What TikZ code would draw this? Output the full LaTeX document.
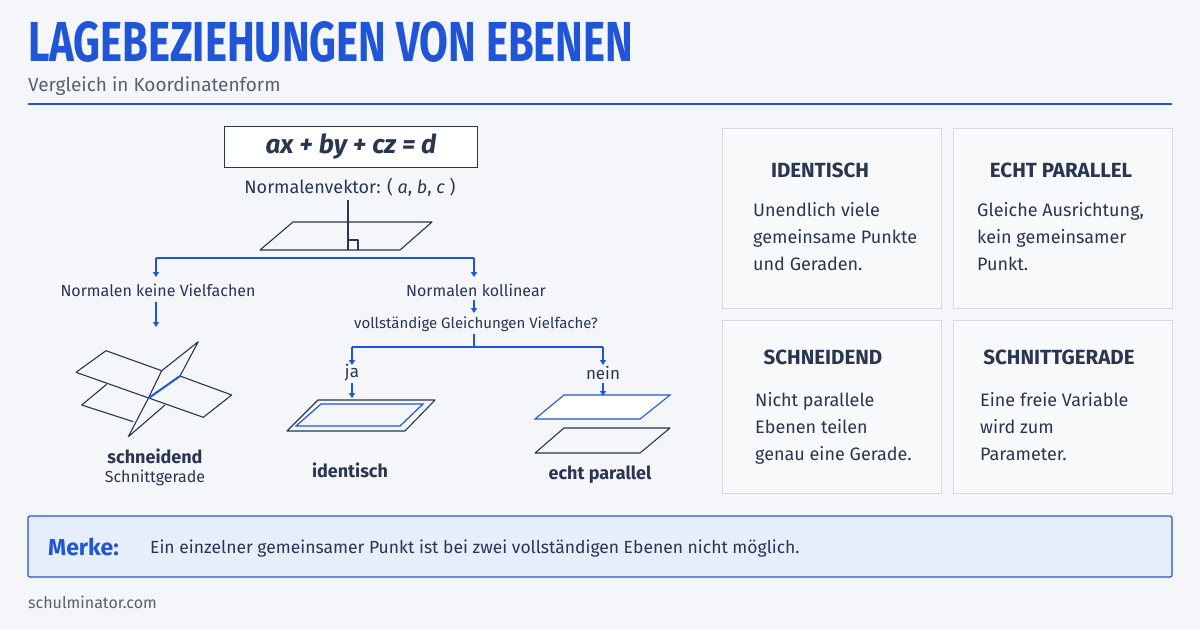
\documentclass[tikz,border=0pt]{standalone}
\usepackage{fontspec}
\setmainfont{Fira Sans}
\usetikzlibrary{arrows.meta}
\definecolor{bg}{HTML}{F4F6FA}
\definecolor{blu}{HTML}{1F55D6}
\definecolor{navy}{HTML}{2A3550}
\definecolor{gry}{HTML}{5A6070}
\definecolor{card}{HTML}{F8F9FB}
\definecolor{cardb}{HTML}{D5D9E0}
\definecolor{merk}{HTML}{E6EDFB}
\begin{document}
\begin{tikzpicture}[x=1pt,y=-1pt,
  txt/.style={inner sep=0pt,text=navy,font=\fontsize{16}{19}\selectfont},
  barr/.style={blu,line width=1.6pt,-{Triangle[width=6pt,length=5pt]}},
  bl/.style={blu,line width=1.6pt},
  pl/.style={navy,line width=1.1pt,line join=round},
  cardbox/.style={draw=cardb,fill=card,line width=0.8pt},
  ctitle/.style={inner sep=0pt,text=navy,font=\fontsize{20.5}{24}\selectfont\bfseries},
  cbody/.style={inner sep=0pt,text=navy,anchor=north west,align=left,font=\fontsize{18}{27}\selectfont}]
\fill[bg] (0,0) rectangle (1200,630);
\useasboundingbox (0,0) rectangle (1200,630);
% header
\node[inner sep=0pt,anchor=south west,text=blu] (title) at (28,63) {\resizebox{605pt}{40pt}{\bfseries LAGEBEZIEHUNGEN VON EBENEN}};
\node[inner sep=0pt,anchor=west,text=gry,font=\fontsize{19}{21}\selectfont] (sub) at (28,86) {Vergleich in Koordinatenform};
\draw[blu,line width=1.2pt] (28,104) -- (1172,104);
% equation
\node[draw=navy,line width=1.3pt,minimum width=253pt,minimum height=41pt,fill=white,font=\fontsize{26}{28}\selectfont\bfseries\itshape,text=navy] (eq) at (351,147) {ax + by + cz = d};
\node[txt,font=\fontsize{18}{20}\selectfont] (nv) at (350,187) {Normalenvektor: ( \textit{a}, \textit{b}, \textit{c} )};
\coordinate (nt) at (348,200);
\coordinate (nb) at (348,250);
\draw[pl] (260,250) -- (293,222) -- (432,222) -- (400,250) -- cycle;
\draw[pl] (nt) -- (nb);
\draw[pl] (348,240) -- (358,240) -- (358,250);
% branch
\coordinate (bL) at (156,258); \coordinate (bR) at (474,258);
\coordinate (bLe) at (156,277); \coordinate (bRe) at (474,277);
\draw[bl] (bL) -- (bR);
\draw[barr] (bL) -- (bLe);
\draw[barr] (bR) -- (bRe);
\node[txt] (nkv) at (158,290) {Normalen keine Vielfachen};
\node[txt] (nk) at (476,290) {Normalen kollinear};
\draw[barr] (156,302) -- (156,327);
\draw[barr] (474,300) -- (474,313);
\node[txt,font=\fontsize{15}{17}\selectfont] (vg) at (476,324) {vollständige Gleichungen Vielfache?};
\draw[bl] (474,334) -- (474,347);
\draw[bl] (352,347) -- (603,347);
\draw[barr] (352,347) -- (352,365);
\draw[barr] (603,347) -- (603,365);
\node[txt,font=\fontsize{17}{20}\selectfont] (ja) at (352,373) {ja};
\node[txt,font=\fontsize{17}{20}\selectfont] (nein) at (603,373) {nein};
\draw[barr] (352,383) -- (352,398);
\draw[barr] (603,383) -- (603,396);
% intersecting planes
\draw[pl] (161.7,370.7) -- (106,350.7) -- (76,372.3) -- (203.3,417.3) -- (231.7,395) -- (180,376);
\draw[pl] (106.7,384.3) -- (81.7,405) -- (133.3,421.7);
\draw[pl] (180,376) -- (198.3,341.7) -- (161.7,370.7) -- (148.3,398.3) -- (128.3,436.7) -- (165,405);
\draw[blu,line width=2pt] (148.3,398.3) -- (180,376);
\node[txt,font=\fontsize{18}{20}\selectfont\bfseries] (sch) at (155,456) {schneidend};
\node[txt] (sg) at (155,478) {Schnittgerade};
% identical
\draw[pl] (287,431) -- (318,400) -- (435,400) -- (405,431) -- cycle;
\draw[blu,line width=1.2pt] (296,426) -- (321,404) -- (423,404) -- (400,426) -- cycle;
\node[txt,font=\fontsize{18}{20}\selectfont\bfseries] (id) at (350,470) {identisch};
% parallel
\draw[blu,line width=1.1pt,fill=white] (535,419) -- (564,395) -- (670,395) -- (640,419) -- cycle;
\draw[pl] (535,453) -- (564,428) -- (670,428) -- (640,453) -- cycle;
\node[txt,font=\fontsize{18}{20}\selectfont\bfseries] (ep) at (600,475) {echt parallel};
% cards
\draw[cardbox] (722,128) rectangle (941,308);
\draw[cardbox] (953,128) rectangle (1172,308);
\draw[cardbox] (722,320) rectangle (941,493);
\draw[cardbox] (953,320) rectangle (1172,493);
\node[ctitle] (t1) at (820,170) {IDENTISCH};
\node[ctitle] (t2) at (1061,170) {ECHT PARALLEL};
\node[ctitle] (t3) at (823,357) {SCHNEIDEND};
\node[ctitle] (t4) at (1059,357) {SCHNITTGERADE};
\node[cbody] (b1) at (753,202) {Unendlich viele\\gemeinsame Punkte\\und Geraden.};
\node[cbody] (b2) at (977,202) {Gleiche Ausrichtung,\\kein gemeinsamer\\Punkt.};
\node[cbody] (b3) at (755,392) {Nicht parallele\\Ebenen teilen\\genau eine Gerade.};
\node[cbody] (b4) at (980,392) {Eine freie Variable\\wird zum\\Parameter.};
% merke
\draw[blu,fill=merk,line width=1.2pt,rounded corners=2pt] (28,516) rectangle (1172,577);
\node[inner sep=0pt,anchor=west,text=blu,font=\fontsize{23}{25}\selectfont\bfseries] (mk) at (48,547) {Merke:};
\node[inner sep=0pt,anchor=west,text=navy,font=\fontsize{17.5}{20}\selectfont] (mt) at (150,549) {Ein einzelner gemeinsamer Punkt ist bei zwei vollständigen Ebenen nicht möglich.};
\node[inner sep=0pt,anchor=west,text=gry,font=\fontsize{16}{18}\selectfont] (ft) at (28,602) {schulminator.com};
\end{tikzpicture}
\end{document}
